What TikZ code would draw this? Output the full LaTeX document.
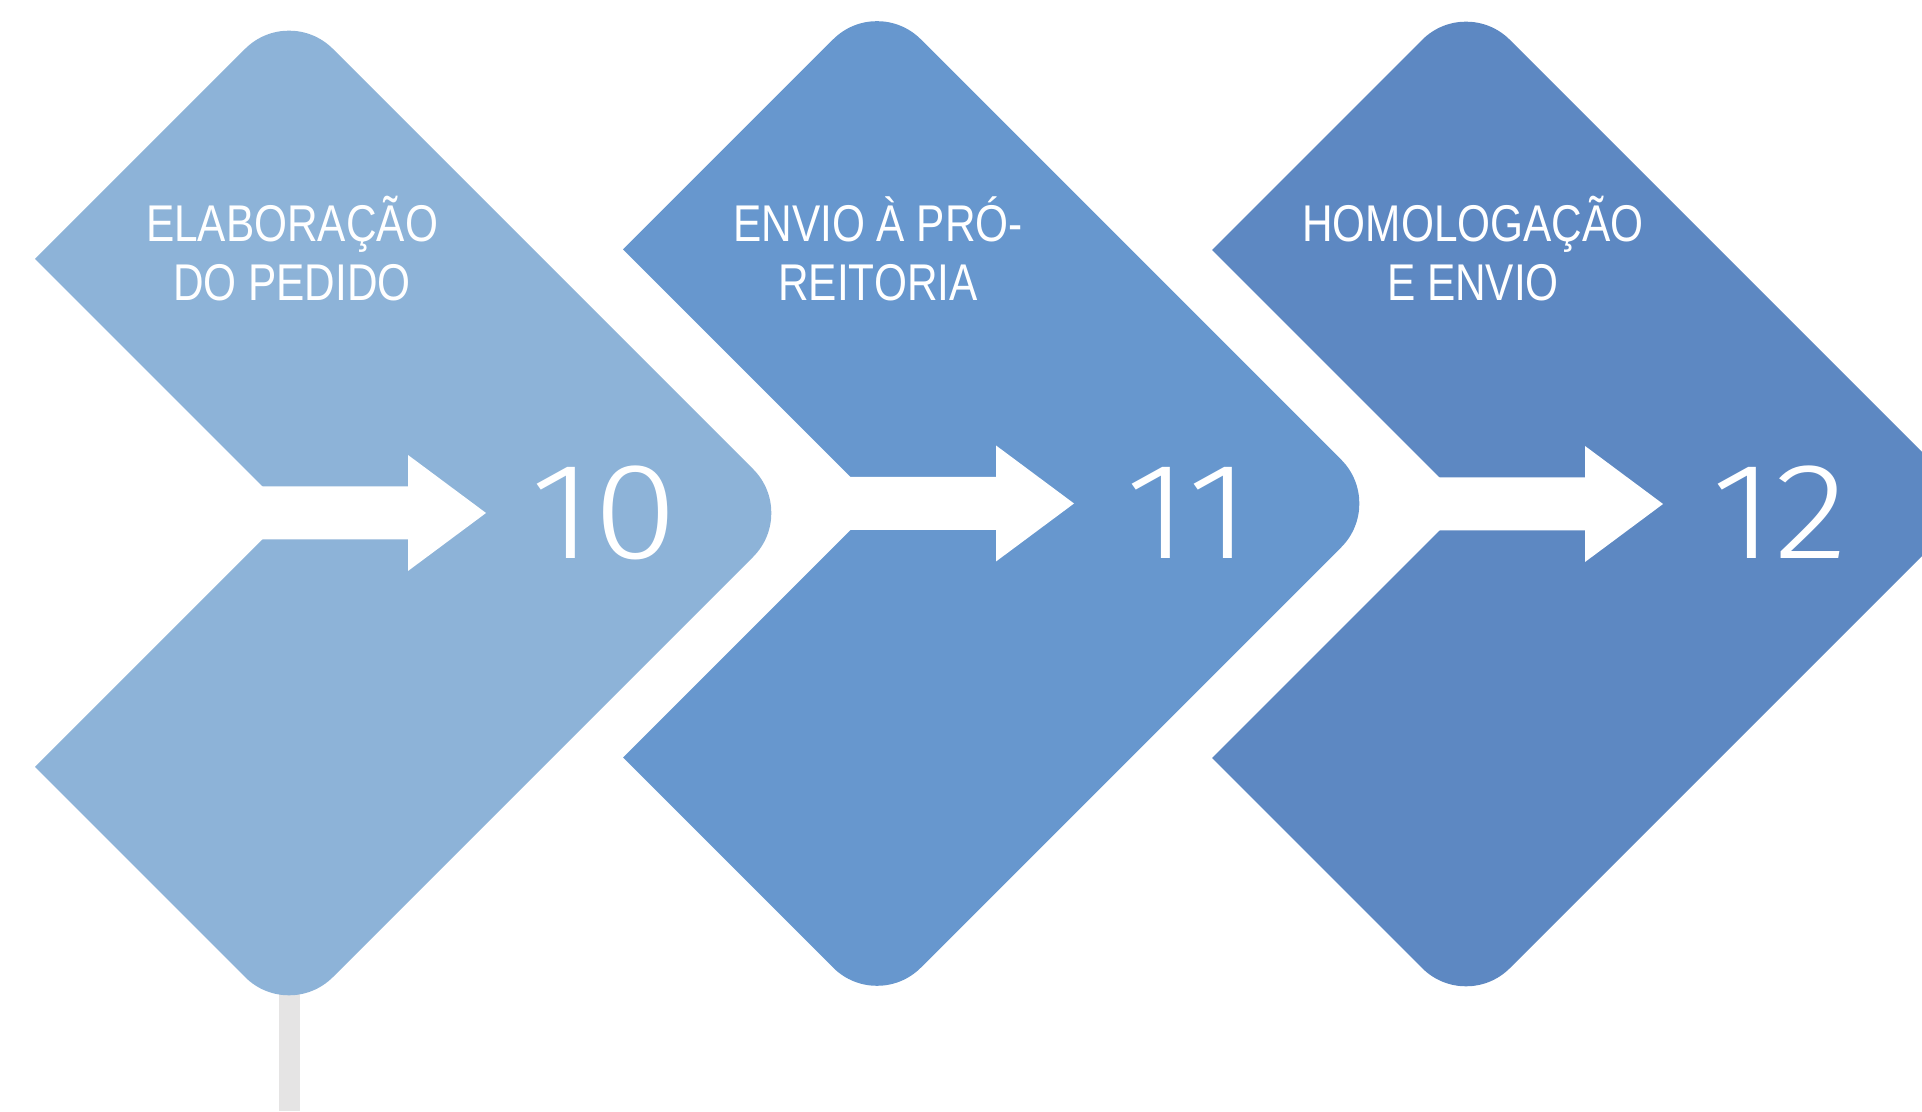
\documentclass[tikz,border=0pt]{standalone}
\usepackage{fontspec}
\usepackage{graphicx}
\usetikzlibrary{calc}
\newfontfamily\labelfont{Liberation Sans}
\IfFontExistsTF{Fira Sans Light}{\newfontfamily\numfont{Fira Sans Light}}{\newfontfamily\numfont{Lato Light}}
\newcommand\stepline[1]{\scalebox{0.82}[1]{#1}}
\newcommand\stepdigits[1]{\scalebox{1.12}[1]{#1}}
\definecolor{stepone}{RGB}{141,179,216}
\definecolor{steptwo}{RGB}{103,151,206}
\definecolor{stepthree}{RGB}{93,136,194}
\definecolor{stemgray}{RGB}{229,228,228}

\begin{document}
\begin{tikzpicture}[x=0.1mm,y=0.1mm,
    steptext/.style={anchor=south,inner sep=0pt,align=center,text=white,
      font=\labelfont\fontsize{14.7pt}{17pt}\selectfont},
    stepnum/.style={anchor=base,inner sep=0pt,text=white,
      font=\numfont\fontsize{39pt}{39pt}\selectfont},
    stem/.style={draw=stemgray,line width=2.1mm}]
  \useasboundingbox (0,0) rectangle (1922,1111);
  \clip (0,0) rectangle (1922,1111);
  \coordinate (c10) at (289,598);
  \coordinate (c11) at (877,607.5);
  \coordinate (c12) at (1466,607);
  \coordinate (tail) at (289,0);
  \draw[stem] (c10) -- (tail);
  % chevrons
  \fill[stepone] (c10) -- ++(-254,254) [rounded corners=6.2mm] -- ++(254,254)
    -- ++(508,-508) -- ++(-508,-508) [sharp corners] -- ++(-254,254) -- cycle;
  \fill[steptwo] (c11) -- ++(-254,254) [rounded corners=6.2mm] -- ++(254,254)
    -- ++(508,-508) -- ++(-508,-508) [sharp corners] -- ++(-254,254) -- cycle;
  \fill[stepthree] (c12) -- ++(-254,254) [rounded corners=6.2mm] -- ++(254,254)
    -- ++(508,-508) -- ++(-508,-508) [sharp corners] -- ++(-254,254) -- cycle;
  % arrows
  \fill[white] (c10) ++(-33,26.5) -- ++(152,0) -- ++(0,31.5) -- ++(78,-58)
    -- ++(-78,-58) -- ++(0,31.5) -- ++(-152,0) -- cycle;
  \fill[white] (c11) ++(-33,26.5) -- ++(152,0) -- ++(0,31.5) -- ++(78,-58)
    -- ++(-78,-58) -- ++(0,31.5) -- ++(-152,0) -- cycle;
  \fill[white] (c12) ++(-33,26.5) -- ++(152,0) -- ++(0,31.5) -- ++(78,-58)
    -- ++(-78,-58) -- ++(0,31.5) -- ++(-152,0) -- cycle;
  \node[steptext] (t10) at (292,809) {\stepline{ELABORAÇÃO}\\\stepline{DO PEDIDO}};
  \node[steptext] (t11) at (878,809) {\stepline{ENVIO À PRÓ-}\\\stepline{REITORIA}};
  \node[steptext] (t12) at (1473,809) {\stepline{HOMOLOGAÇÃO}\\\stepline{E ENVIO}};
  \node[stepnum] (n10) at (604,552) {\stepdigits{10}};
  \node[stepnum] (n11) at (1188,552) {\stepdigits{11}};
  \node[stepnum] (n12) at (1780,552) {\stepdigits{12}};
\end{tikzpicture}
\end{document}
